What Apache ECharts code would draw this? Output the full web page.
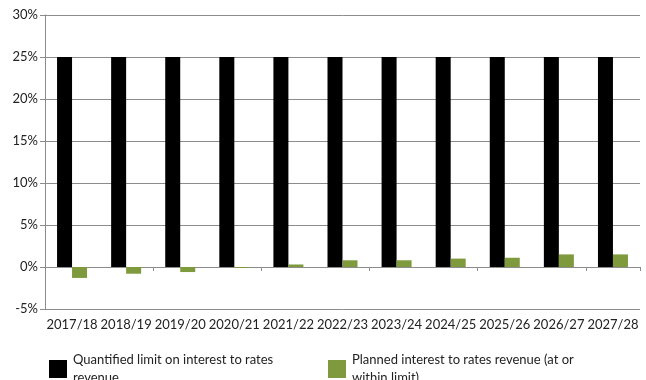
<!DOCTYPE html>
<html>
<head>
<meta charset="utf-8">
<script src="https://cdn.jsdelivr.net/npm/echarts@6/dist/echarts.min.js"></script>
<style>
  html, body { margin: 0; padding: 0; background: #fff; }
  #chart { width: 646px; height: 380px; }
</style>
</head>
<body>
<div id="chart"></div>
<script>
// financial years
const years = ['2017/18', '2018/19', '2019/20', '2020/21', '2021/22', '2022/23',
  '2023/24', '2024/25', '2025/26', '2026/27', '2027/28']
// quantified limit (%)
const limitValues = [25, 25, 25, 25, 25, 25, 25, 25, 25, 25, 25]
// planned interest to rates revenue (%)
const plannedValues = [-1.3, -0.8, -0.6, -0.1, 0.3, 0.8, 0.8, 1.0, 1.1, 1.5, 1.5]

const limitName = 'Quantified limit on interest to rates revenue'
const plannedName = 'Planned interest to rates revenue (at or within limit)'

const font = 'Lato, "Open Sans", sans-serif'
const gridColor = '#8c8c8c'

const chart = echarts.init(document.getElementById('chart'))

// legend text wraps like the original, first line level with the square
const legendText = {
  fontFamily: font,
  fontSize: 13,
  color: '#222',
  lineHeight: 18,
  padding: [14, 0, 0, 1]
}

const option = {
  animation: false,
  grid: { left: 45, right: 6, top: 15, bottom: 71 },
  legend: [
    {
      data: [limitName],
      left: 44,
      top: 339,
      icon: 'rect',
      itemWidth: 18,
      itemHeight: 18,
      formatter: () => 'Quantified limit on interest to rates\nrevenue',
      textStyle: legendText
    },
    {
      data: [plannedName],
      left: 323,
      top: 339,
      icon: 'rect',
      itemWidth: 18,
      itemHeight: 18,
      formatter: () => 'Planned interest to rates revenue (at or\nwithin limit)',
      textStyle: legendText
    }
  ],
  xAxis: [
    {
      type: 'category',
      data: years,
      position: 'bottom',
      axisLine: { show: false, onZero: false },
      axisTick: { show: false },
      axisLabel: { interval: 0, fontFamily: font, fontSize: 13, color: '#222', margin: 9 }
    },
    {
      // zero line with small ticks
      type: 'category',
      data: years,
      position: 'bottom',
      axisLine: { show: true, onZero: true, lineStyle: { color: gridColor, width: 1 } },
      axisTick: { show: true, length: 4, lineStyle: { color: gridColor } },
      axisLabel: { show: false }
    }
  ],
  yAxis: {
    type: 'value',
    min: -5,
    max: 30,
    interval: 5,
    axisLine: { show: true, lineStyle: { color: gridColor } },
    axisTick: { show: true, length: 5, lineStyle: { color: gridColor } },
    axisLabel: {
      fontFamily: font,
      fontSize: 13,
      color: '#222',
      margin: 7,
      formatter: '{value}%'
    },
    splitLine: { lineStyle: { color: gridColor, width: 1 } }
  },
  series: [
    {
      name: limitName,
      type: 'bar',
      data: limitValues,
      barWidth: 15,
      barGap: '0%',
      itemStyle: { color: '#000000' }
    },
    {
      name: plannedName,
      type: 'bar',
      data: plannedValues,
      barWidth: 15,
      itemStyle: { color: '#7e9a3c' }
    }
  ]
}

chart.setOption(option)
</script>
</body>
</html>
